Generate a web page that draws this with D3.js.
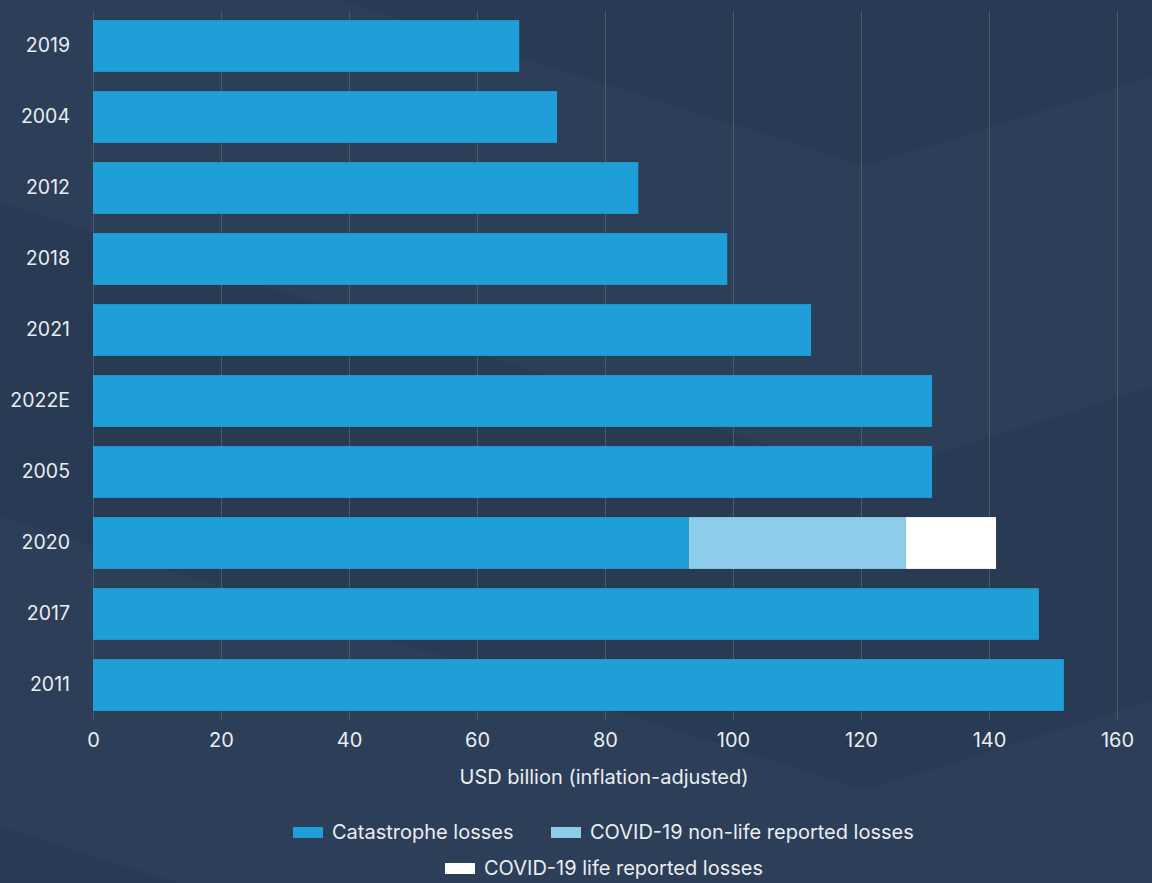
<!DOCTYPE html>
<html><head><meta charset="utf-8">
<script src="https://cdn.jsdelivr.net/npm/d3@7"></script>
<style>
html,body{margin:0;padding:0;background:#2d3f58;}
svg{display:block;}
text{font-family:Inter,"Noto Sans",sans-serif;}
</style></head>
<body>
<svg id="chart" width="1152" height="883"></svg>
<script>
const years = ["2019","2004","2012","2018","2021","2022E","2005","2020","2017","2011"];
const catastrophe = [66.6, 72.5, 85.2, 99.1, 112.2, 131.1, 131.1, 93.1, 147.8, 151.7];
const covidNonLife = [0, 0, 0, 0, 0, 0, 0, 33.9, 0, 0];
const covidLife = [0, 0, 0, 0, 0, 0, 0, 14.1, 0, 0];
const xTicks = [0, 20, 40, 60, 80, 100, 120, 140, 160];
const seriesNames = ["Catastrophe losses", "COVID-19 non-life reported losses", "COVID-19 life reported losses"];
const seriesColors = ["#1e9fd8", "#8ecdea", "#ffffff"];
const axisTitle = "USD billion (inflation-adjusted)";

const svg = d3.select("#chart");
const W = 1152, H = 883;

// background chevrons
const bg = svg.append("g");
bg.append("rect").attr("width", W).attr("height", H).attr("fill", "#2d3f58");
const dark = "#283a54";
const vx = 865, s = 0.316, s2 = 0.31;
const V = (vy, xx) => xx <= vx ? vy - s * (vx - xx) : vy - s2 * (xx - vx);
bg.append("path").attr("fill", dark)
  .attr("d", `M${vx - 166 / s},0 L${vx},166 L${W},${V(166, W)} L${W},0 Z`);
bg.append("path").attr("fill", dark)
  .attr("d", `M0,${V(476, 0)} L${vx},476 L${W},${V(476, W)} L${W},${V(790, W)} L${vx},790 L0,${V(790, 0)} Z`);
bg.append("path").attr("fill", dark)
  .attr("d", `M0,${V(1100, 0)} L${(883 - V(1100, 0)) / s},883 L0,883 Z`);

const x = d3.scaleLinear().domain([0, 160]).range([93, 1117]);
const y = d3.scaleBand().domain(years).range([10.5, 720.5]).paddingInner(0.27).paddingOuter(0.135);

// grid
svg.append("g").selectAll("line").data(xTicks).join("line")
  .attr("x1", d => x(d) + 0.5).attr("x2", d => x(d) + 0.5)
  .attr("y1", 11).attr("y2", 720)
  .attr("stroke", "#4a5a72").attr("stroke-width", 1);

// stacked bars
const stackData = years.map((yr, i) => ({year: yr, a: catastrophe[i], b: covidNonLife[i], c: covidLife[i]}));
const stack = d3.stack().keys(["a", "b", "c"])(stackData);
svg.append("g").selectAll("g").data(stack).join("g")
  .attr("fill", (d, i) => seriesColors[i])
  .selectAll("rect").data(d => d.filter(p => p[1] - p[0] > 0)).join("rect")
  .attr("x", d => x(d[0]))
  .attr("width", d => x(d[1]) - x(d[0]))
  .attr("y", d => y(d.data.year))
  .attr("height", y.bandwidth());

// x axis
const xAxis = svg.append("g").attr("transform", "translate(0,720)")
  .call(d3.axisBottom(x).tickValues(xTicks).tickSize(0).tickPadding(13));
xAxis.select(".domain").remove();
xAxis.selectAll("text").attr("fill", "#e9edf2").attr("font-size", 20);

// y axis
const yAxis = svg.append("g").attr("transform", "translate(93,0)")
  .call(d3.axisLeft(y).tickSize(0).tickPadding(23));
yAxis.select(".domain").remove();
yAxis.selectAll("text").attr("fill", "#e9edf2").attr("font-size", 19.5);

// axis title
svg.append("text").attr("x", 604).attr("y", 777).attr("dy", "0.35em").attr("text-anchor", "middle")
  .attr("fill", "#e9edf2").attr("font-size", 20).text(axisTitle);

// legend
const legendItems = [
  {name: seriesNames[0], color: seriesColors[0], x: 293, y: 832},
  {name: seriesNames[1], color: seriesColors[1], x: 551, y: 832},
  {name: seriesNames[2], color: seriesColors[2], x: 445, y: 868}
];
const lg = svg.append("g").selectAll("g").data(legendItems).join("g")
  .attr("transform", d => `translate(${d.x},${d.y})`);
lg.append("rect").attr("x", 0).attr("y", -5).attr("width", 30).attr("height", 11).attr("fill", d => d.color);
lg.append("text").attr("x", 39).attr("y", 0).attr("dy", "0.35em")
  .attr("fill", "#e9edf2").attr("font-size", 20).text(d => d.name);
</script>
</body></html>
